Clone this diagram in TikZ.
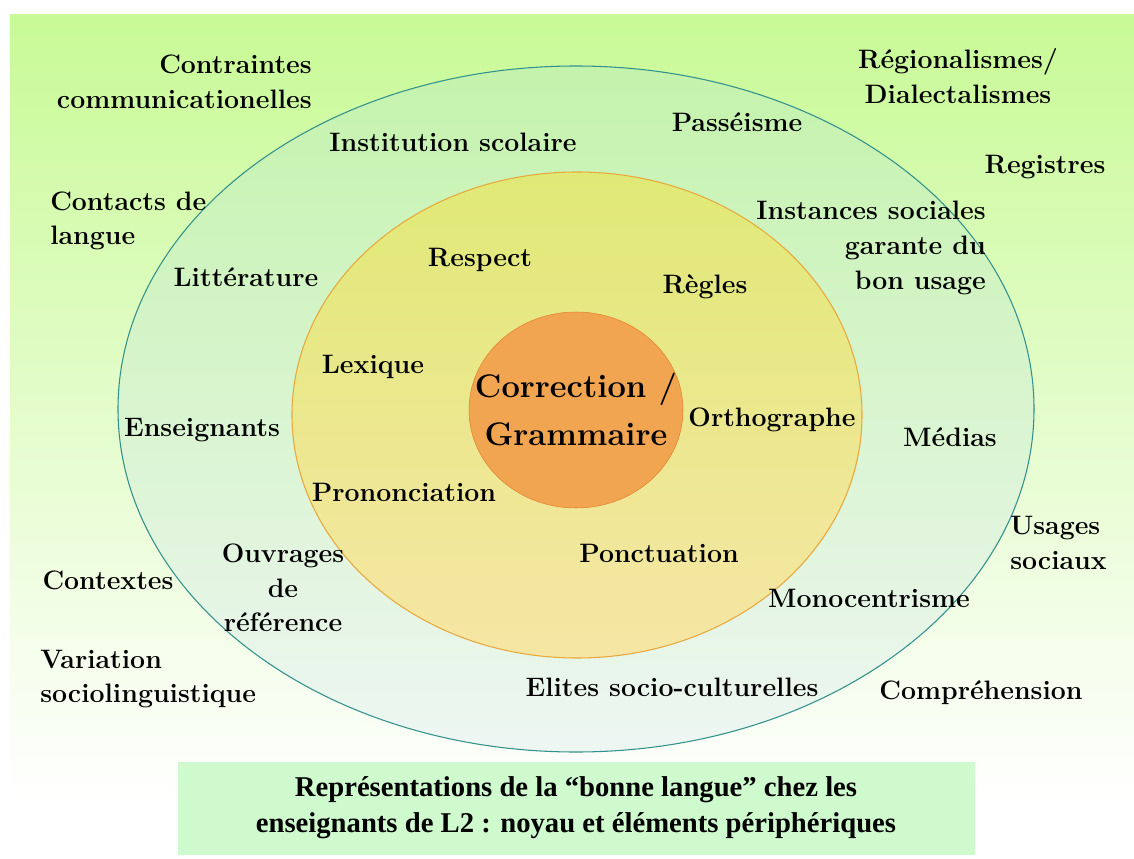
\documentclass[tikz,border=0pt]{standalone}
\usepackage{fontspec}
\newfontfamily\capfont{Liberation Serif}
\usetikzlibrary{positioning}
\definecolor{bgtop}{RGB}{200,250,150}
\definecolor{outtop}{RGB}{196,243,172}
\definecolor{outbot}{RGB}{238,246,243}
\definecolor{outline}{RGB}{50,145,140}
\definecolor{midtop}{RGB}{224,233,118}
\definecolor{midbot}{RGB}{246,230,165}
\definecolor{midline}{RGB}{232,168,60}
\definecolor{core}{RGB}{241,165,80}
\definecolor{coreline}{RGB}{226,128,48}
\definecolor{capbg}{RGB}{206,250,206}

\begin{document}
\begin{tikzpicture}[x=0.75pt,y=-0.75pt,
  lbl/.style={font=\fontsize{20}{26}\selectfont\bfseries,inner sep=0pt,align=center},
  big/.style={font=\fontsize{24.5}{36}\selectfont\bfseries,inner sep=0pt,align=center}]
  \useasboundingbox (0,0) rectangle (1134,859);
  \shade[top color=bgtop,bottom color=white] (10,15) rectangle (1134,800);
  \shade[top color=outtop,bottom color=outbot,draw=outline,thick] (576,409) ellipse (458 and 343);
  \shade[top color=midtop,bottom color=midbot,draw=midline,thick] (577,415) ellipse (285 and 243);
  \draw[fill=core,draw=coreline] (576,410) ellipse (107 and 98);
  \node[big] (correction) at (576,409) {Correction /\\Grammaire};

  \foreach \n/\x/\y/\t in {scolaire/453/142/Institution scolaire, passeisme/737/122/Passéisme,
      registres/1045/167/Registres, litterature/246/277/Littérature, respect/480/260/Respect,
      regles/705/287/Règles, lexique/373/367/Lexique, ortho/772/420/Orthographe,
      enseignants/202/430/Enseignants, medias/950/437/Médias, prononciation/404/492/Prononciation,
      ponctuation/659/553/Ponctuation, contextes/108/580/Contextes, monocentrisme/869/598/Monocentrisme,
      elites/672/687/Elites socio-culturelles, comprehension/981/693/Compréhension}
    \node[lbl] (\n) at (\x,\y) {\t};

  \node[lbl,align=right,anchor=east] (contraintes) at (312,82) {Contraintes\\communicationelles};
  \node[lbl] (regionalismes) at (958,76) {Régionalismes/\\Dialectalismes};
  \node[lbl,align=left,anchor=west] (contacts) at (50,221) {Contacts de\\langue};
  \node[lbl,align=right,anchor=east] (instances) at (986,248) {Instances sociales\\garante du\\bon usage};
  \node[lbl,align=left,anchor=west] (usages) at (1010,543) {Usages\\sociaux};
  \node[lbl] (ouvrages) at (283,588) {Ouvrages\\de\\référence};
  \node[lbl,align=left,anchor=west] (variation) at (40,679) {Variation\\sociolinguistique};

  \fill[capbg] (178,762) rectangle (975,855);
  \node[font=\capfont\fontsize{21.5}{27}\selectfont\bfseries,align=center,inner sep=0pt] (legende) at (576,808)
    {Représentations de la “bonne langue” chez les\\enseignants de L2 : noyau et éléments périphériques};
\end{tikzpicture}
\end{document}
